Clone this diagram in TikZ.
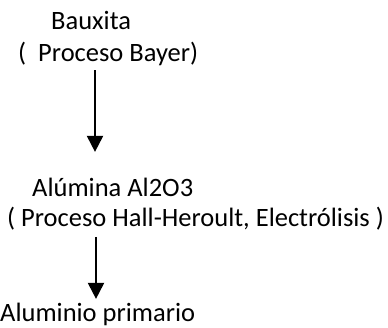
\documentclass[tikz,border=0pt]{standalone}
\usepackage{fontspec}
\setmainfont{Carlito}
\usetikzlibrary{arrows.meta}

\begin{document}
\begin{tikzpicture}[x=1pt,y=-1pt,
    texto/.style={anchor=base west,inner sep=0pt,font=\fontsize{26.5}{32}\selectfont},
    flecha/.style={line width=2pt,-{Triangle[length=16pt,width=16pt]}}]
    \useasboundingbox (0,0) rectangle (388,328);
      \node[texto] (bauxita) at (51,29.5) {Bauxita};
      \node[texto] (bayer) at (18,61.5) {(\ \ Proceso Bayer)};
      \node[texto] (alumina) at (32,196.5) {Alúmina Al2O3};
      \node[texto] (hall) at (7,226.5) {( Proceso Hall-Heroult, Electrólisis )};
      \node[texto] (aluminio) at (0,321.5) {Aluminio primario};
      \draw[flecha] ([yshift=-4.5pt]bayer.south -| 95,0) -- ([yshift=26pt]alumina.north -| 95,0);
      \draw[flecha] ([yshift=-6.5pt]hall.south -| 96,0) -- ([yshift=4pt]aluminio.north -| 96,0);
    \end{tikzpicture}
\end{document}
